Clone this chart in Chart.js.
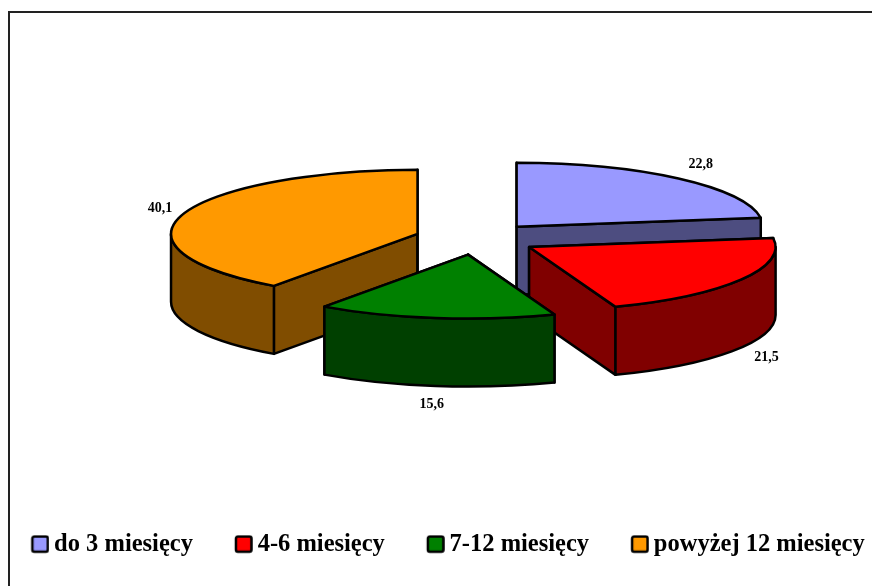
<!DOCTYPE html>
<html lang="pl">
<head>
<meta charset="utf-8">
<style>
html,body{margin:0;padding:0;background:#fff;overflow:hidden;width:872px;height:586px}
#chart{position:absolute;left:-20px;top:-10px}
#frame{position:absolute;left:8px;top:11px;width:864px;height:575px;border-left:2px solid #222;border-top:2px solid #222;box-sizing:border-box}
</style>
<script src="https://cdn.jsdelivr.net/npm/chart.js@4"></script>
</head>
<body>
<canvas id="chart" width="983" height="577"></canvas>
<div id="frame"></div>
<script>
const categories=["do 3 miesięcy","4-6 miesięcy","7-12 miesięcy","powyżej 12 miesięcy"]
const values=[22.8,21.5,15.6,40.1]
const topColors=["#9999ff","#ff0000","#008000","#ff9900"]
const wallColors=["#4d4d80","#800000","#004000","#804d00"]

// the "3D" look: pie is squashed, each slice pulled out and given a wall
const tilt=0.2596
const explode=61.6
const depth=68
const labelRx=[342,338,338,332]
const labelRy=99
const wallOrder=[0,3,1,2]

const fontName="'Liberation Serif','Times New Roman',serif"

function legendBox(color){
const c=document.createElement("canvas")
c.width=20
c.height=20
const g=c.getContext("2d")
g.fillStyle=color
g.strokeStyle="#000"
g.lineWidth=2.5
g.beginPath()
g.roundRect(3,1.75,15.5,15.25,2)
g.fill()
g.stroke()
return c
}

function sliceShift(arc){
const mid=(arc.startAngle+arc.endAngle)/2
return {x:Math.cos(mid)*explode,y:Math.sin(mid)*explode*tilt}
}

function drawWalls(ctx,arc,i){
const s=sliceShift(arc)
const x=arc.x+s.x
const y=arc.y+s.y
const rx=arc.outerRadius
const ry=rx*tilt
ctx.fillStyle=wallColors[i]
const edges=[arc.startAngle,arc.endAngle]
edges.forEach(a=>{
const ex=x+Math.cos(a)*rx
const ey=y+Math.sin(a)*ry
ctx.beginPath()
ctx.moveTo(x,y)
ctx.lineTo(ex,ey)
ctx.lineTo(ex,ey+depth)
ctx.lineTo(x,y+depth)
ctx.closePath()
ctx.fill()
ctx.stroke()
})
const a0=Math.max(arc.startAngle,0)
const a1=Math.min(arc.endAngle,Math.PI)
if(a1>a0){
ctx.beginPath()
ctx.ellipse(x,y,rx,ry,0,a0,a1)
ctx.ellipse(x,y+depth,rx,ry,0,a1,a0,true)
ctx.closePath()
ctx.fill()
ctx.stroke()
}
}

const pie3d={
id:"pie3d",
beforeDatasetDraw(chart,args){
const ctx=chart.ctx
const arcs=args.meta.data
ctx.save()
ctx.strokeStyle="#000"
ctx.lineWidth=2.5
ctx.lineJoin="round"
wallOrder.forEach(i=>drawWalls(ctx,arcs[i],i))
arcs.forEach(arc=>{
const s=sliceShift(arc)
ctx.save()
ctx.translate(arc.x+s.x,arc.y+s.y)
ctx.scale(1,tilt)
ctx.translate(-arc.x,-arc.y)
arc.draw(ctx)
ctx.restore()
ctx.beginPath()
ctx.moveTo(arc.x+s.x,arc.y+s.y)
ctx.ellipse(arc.x+s.x,arc.y+s.y,arc.outerRadius,arc.outerRadius*tilt,0,arc.startAngle,arc.endAngle)
ctx.closePath()
ctx.stroke()
})
ctx.fillStyle="#000"
ctx.font="bold 14px "+fontName
ctx.textAlign="center"
ctx.textBaseline="middle"
arcs.forEach((arc,i)=>{
const mid=(arc.startAngle+arc.endAngle)/2
const sin=Math.sin(mid)
const lx=arc.x+Math.cos(mid)*labelRx[i]
const ly=arc.y+sin*labelRy+(sin>0?depth:0)
ctx.fillText(String(values[i]).replace(".",","),lx,ly)
})
ctx.restore()
return false
}
}

new Chart(document.getElementById("chart"),{
type:"pie",
data:{
labels:categories,
datasets:[{
data:values,
backgroundColor:topColors,
borderWidth:0,
hoverOffset:0,
clip:false
}]
},
plugins:[pie3d],
options:{
responsive:false,
animation:false,
events:[],
radius:246.5,
layout:{padding:{left:9.35,top:2.5}},
plugins:{
tooltip:{enabled:false},
legend:{
position:"bottom",
align:"start",
labels:{
color:"#000",
font:{family:fontName,size:24.5,weight:"bold"},
padding:47.5,
boxWidth:5,
usePointStyle:true,
generateLabels(){
return categories.map((t,i)=>({text:t,pointStyle:legendBox(topColors[i]),fontColor:"#000",index:i}))
}
}
}
}
}
})
</script>
</body>
</html>
